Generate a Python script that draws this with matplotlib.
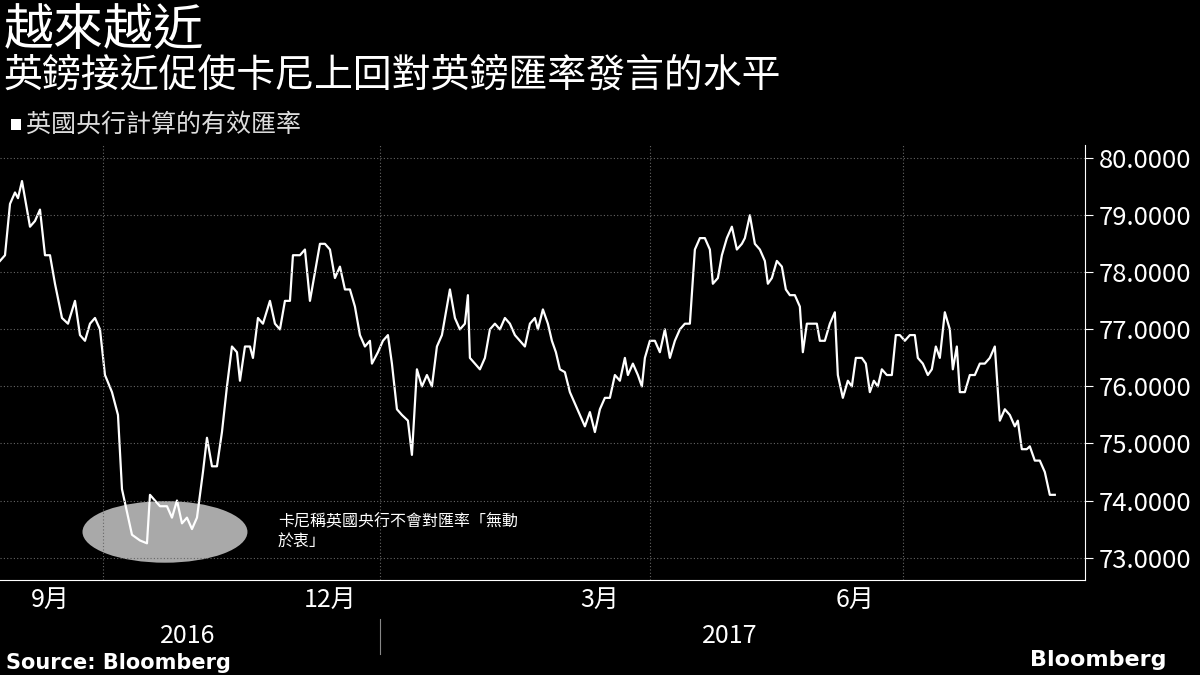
import matplotlib
matplotlib.use("Agg")
import matplotlib.pyplot as plt
from matplotlib.patches import Ellipse, Rectangle

plt.rcParams['font.family'] = ['Noto Sans CJK TC', 'DejaVu Sans']

# position along the time axis (chart units) and BoE effective exchange rate
t = [0, 5, 10, 15, 18, 22, 30, 35, 40, 45, 50, 55, 62, 68, 75, 80, 85, 90, 95, 100,
     105, 112, 118, 122, 127, 132, 140, 147, 150, 155, 160, 167, 172, 177, 182, 187, 192, 197,
     203, 207, 212, 217, 222, 227, 232, 237, 240, 245, 250, 253, 258, 263, 270, 275, 280, 285,
     290, 293, 300, 305, 310, 315, 320, 325, 330, 335, 340, 345, 350, 355, 360, 365, 370, 372,
     378, 383, 388, 392, 397, 402, 408, 412, 417, 422, 427, 432, 437, 442, 447, 450, 455, 460,
     465, 468, 470, 475, 480, 485, 490, 495, 500, 505, 510, 515, 520, 525, 530, 535, 538, 543,
     548, 552, 556, 560, 565, 570, 575, 580, 585, 590, 595, 600, 605, 610, 615, 620, 625, 628,
     633, 638, 642, 645, 650, 655, 660, 665, 670, 675, 680, 685, 690, 695, 700, 705, 710, 713,
     718, 722, 727, 732, 737, 742, 745, 750, 755, 760, 765, 768, 772, 777, 782, 786, 790, 795,
     800, 803, 807, 812, 817, 820, 825, 830, 835, 838, 843, 848, 852, 856, 862, 866, 870, 874,
     878, 882, 887, 892, 896, 900, 905, 910, 915, 918, 923, 928, 932, 936, 940, 945, 950, 953,
     957, 960, 965, 970, 975, 980, 985, 990, 995, 1000, 1005, 1010, 1015, 1018, 1022, 1027,
     1030, 1035, 1040, 1045, 1050, 1055]
rate = [78.2, 78.3, 79.2, 79.4, 79.3, 79.6, 78.8, 78.9, 79.1, 78.3, 78.3, 77.8, 77.2, 77.1, 77.5, 76.9, 76.8, 77.1, 77.2, 77.0,
        76.2, 75.9, 75.5, 74.2, 73.8, 73.4, 73.3, 73.25, 74.1, 74.0, 73.9, 73.9, 73.7, 74.0, 73.6, 73.7, 73.5, 73.7,
        74.5, 75.1, 74.6, 74.6, 75.2, 76.0, 76.7, 76.6, 76.1, 76.7, 76.7, 76.5, 77.2, 77.1, 77.5, 77.1, 77.0, 77.5,
        77.5, 78.3, 78.3, 78.4, 77.5, 78.0, 78.5, 78.5, 78.4, 77.9, 78.1, 77.7, 77.7, 77.4, 76.9, 76.7, 76.8, 76.4,
        76.6, 76.8, 76.9, 76.4, 75.6, 75.5, 75.4, 74.8, 76.3, 76.0, 76.2, 76.0, 76.7, 76.9, 77.4, 77.7, 77.2, 77.0,
        77.1, 77.6, 76.5, 76.4, 76.3, 76.5, 77.0, 77.1, 77.0, 77.2, 77.1, 76.9, 76.8, 76.7, 77.1, 77.2, 77.0, 77.35,
        77.1, 76.8, 76.6, 76.3, 76.25, 75.9, 75.7, 75.5, 75.3, 75.55, 75.2, 75.6, 75.8, 75.8, 76.2, 76.1, 76.5, 76.2,
        76.4, 76.2, 76.0, 76.5, 76.8, 76.8, 76.6, 77.0, 76.5, 76.8, 77.0, 77.1, 77.1, 78.4, 78.6, 78.6, 78.4, 77.8,
        77.9, 78.3, 78.6, 78.8, 78.4, 78.5, 78.6, 79.0, 78.5, 78.4, 78.2, 77.8, 77.9, 78.2, 78.1, 77.7, 77.6, 77.6,
        77.4, 76.6, 77.1, 77.1, 77.1, 76.8, 76.8, 77.1, 77.3, 76.2, 75.8, 76.1, 76.0, 76.5, 76.5, 76.4, 75.9, 76.1,
        76.0, 76.3, 76.2, 76.2, 76.9, 76.9, 76.8, 76.9, 76.9, 76.5, 76.4, 76.2, 76.3, 76.7, 76.5, 77.3, 77.0, 76.3,
        76.7, 75.9, 75.9, 76.2, 76.2, 76.4, 76.4, 76.5, 76.7, 75.4, 75.6, 75.5, 75.3, 75.4, 74.9, 74.9,
        74.95, 74.7, 74.7, 74.5, 74.1, 74.1]

yticks = [73, 74, 75, 76, 77, 78, 79, 80]
month_pos = [50, 330, 600, 855]
month_labels = ['9月', '12月', '3月', '6月']
sep_pos = [103, 380, 650, 903]
year_pos = [188, 730]
year_labels = ['2016', '2017']

fig = plt.figure(figsize=(12, 6.75), dpi=100, facecolor='black')
ax = fig.add_axes([0.0, 0.141, 0.904, 0.644], facecolor='black')
ax.plot(t, rate, color='white', lw=1.6)
ax.set_xlim(0, 1085)
ax.set_ylim(72.61, 80.23)

for s in ['top', 'left']:
    ax.spines[s].set_visible(False)
ax.spines['right'].set_color('white')
ax.spines['bottom'].set_color('white')
ax.yaxis.tick_right()
ax.set_yticks(yticks)
ax.set_yticklabels(['%.4f' % v for v in yticks])
ax.tick_params(axis='y', colors='white', labelsize=18.5, length=6, pad=4)
ax.set_xticks([])
ax.grid(False)
for y in yticks:
    ax.axhline(y, color='#666666', lw=0.8, ls=(0, (1, 2)))
for x in sep_pos:
    ax.axvline(x, color='#666666', lw=0.8, ls=(0, (1, 2)))

for x, lab in zip(month_pos, month_labels):
    ax.text(x, -0.045, lab, transform=ax.get_xaxis_transform(), color='white',
            fontsize=18, ha='center', va='center')
for x, lab in zip(year_pos, year_labels):
    ax.text(x, -0.13, lab, transform=ax.get_xaxis_transform(), color='white',
            fontsize=18, ha='center', va='center')
ax.plot([380, 380], [-0.09, -0.17], transform=ax.get_xaxis_transform(),
        color='#888888', lw=0.8, clip_on=False)

ax.add_patch(Ellipse((165, 73.45), 165, 1.08, facecolor='#c8c8c8', alpha=0.85,
                     edgecolor='none', zorder=1))
ax.text(278, 73.45, '卡尼稱英國央行不會對匯率「無動\n於衷」', color='white', fontsize=11.5,
        ha='left', va='center', linespacing=1.2)

fig.text(0.003, 0.953, '越來越近', color='white', fontsize=36, ha='left', va='center')
fig.text(0.003, 0.888, '英鎊接近促使卡尼上回對英鎊匯率發言的水平', color='white', fontsize=28,
         ha='left', va='center')
fig.patches.append(Rectangle((0.009, 0.808), 0.0085, 0.015, transform=fig.transFigure,
                             facecolor='white', edgecolor='none'))
fig.text(0.022, 0.815, '英國央行計算的有效匯率', color='#dddddd', fontsize=18,
         ha='left', va='center')
fig.text(0.005, 0.018, 'Source: Bloomberg', color='white', fontsize=15, fontweight='bold',
         ha='left', va='center', family='DejaVu Sans')
fig.text(0.972, 0.022, 'Bloomberg', color='white', fontsize=16, fontweight='bold',
         ha='right', va='center', family='DejaVu Sans')

fig.savefig('out.png', dpi=100, facecolor='black')
